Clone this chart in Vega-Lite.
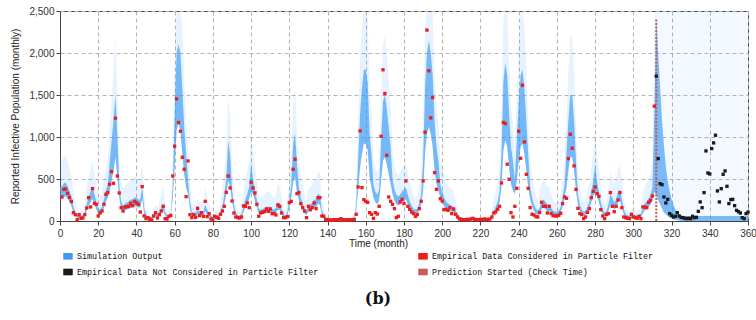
{
"$schema":"https://vega.github.io/schema/vega-lite/v6.json",
"width":688,"height":210,"autosize":{"type":"none"},
"padding":{"left":60,"top":11,"right":8,"bottom":99},
"background":"white",
"config":{"font":"Liberation Sans","view":{"stroke":"#444","strokeWidth":1},
"axis":{"labelFont":"Liberation Sans","labelFontSize":10,"labelColor":"#333","titleFont":"Liberation Sans","titleFontSize":10,"titleFontWeight":"normal","titleColor":"#222","gridColor":"#b4b4b4","gridDash":[4,3],"domainColor":"#444","tickColor":"#444","tickSize":4}},
"title":{"text":"(b)","orient":"bottom","font":"DejaVu Serif","fontSize":16,"fontWeight":"bold","color":"#111","dx":-26,"offset":14},
"datasets":{"d":[
{"m":0,"lo":264,"hi":411,"top":711},
{"m":1,"e":286,"lo":264,"hi":411,"top":711},
{"m":2,"e":377,"lo":288,"hi":447,"top":762},
{"m":3,"e":381,"lo":296,"hi":459,"top":779},
{"m":4,"e":330,"lo":264,"hi":411,"top":711},
{"m":5,"e":282,"lo":224,"hi":351,"top":626},
{"m":6,"e":234,"lo":176,"hi":279,"top":524},
{"m":7,"e":99,"lo":104,"hi":171,"top":351},
{"m":8,"e":75,"lo":64,"hi":111,"top":216},
{"m":9,"e":16,"lo":40,"hi":75,"top":135},
{"m":10,"e":75,"lo":36,"hi":69,"top":122},
{"m":11,"e":32,"lo":32,"hi":63,"top":108},
{"m":12,"e":36,"lo":36,"hi":69,"top":122},
{"m":13,"e":75,"lo":64,"hi":111,"top":216},
{"m":14,"e":155,"lo":120,"hi":195,"top":405},
{"m":15,"e":278,"lo":184,"hi":291,"top":541},
{"m":16,"e":167,"lo":224,"hi":351,"top":626},
{"m":17,"e":385,"lo":264,"hi":411,"top":711},
{"m":18,"e":210,"lo":200,"hi":315,"top":575},
{"m":19,"e":199,"lo":144,"hi":231,"top":456},
{"m":20,"e":60,"lo":80,"hi":135,"top":270},
{"m":21,"e":95,"lo":80,"hi":135,"top":270},
{"m":22,"e":119,"lo":104,"hi":171,"top":351},
{"m":23,"e":199,"lo":160,"hi":255,"top":490},
{"m":24,"e":318,"lo":232,"hi":363,"top":643},
{"m":25,"e":338,"lo":280,"hi":435,"top":745},
{"m":26,"e":437,"lo":352,"hi":700,"top":1120},
{"m":27,"e":588,"lo":480,"hi":955,"top":1460},
{"m":28,"e":449,"lo":600,"hi":1190,"top":1780},
{"m":29,"e":1224,"lo":760,"hi":1500,"top":2200},
{"m":30,"e":536,"lo":520,"hi":1035,"top":1570},
{"m":31,"e":334,"lo":280,"hi":435,"top":745},
{"m":32,"e":159,"lo":144,"hi":231,"top":456},
{"m":33,"e":119,"lo":112,"hi":183,"top":378},
{"m":34,"e":167,"lo":128,"hi":207,"top":422},
{"m":35,"e":171,"lo":136,"hi":219,"top":439},
{"m":36,"e":175,"lo":144,"hi":231,"top":456},
{"m":37,"e":210,"lo":160,"hi":255,"top":490},
{"m":38,"e":183,"lo":160,"hi":255,"top":490},
{"m":39,"e":234,"lo":176,"hi":279,"top":524},
{"m":40,"e":215,"lo":176,"hi":279,"top":524},
{"m":41,"e":199,"lo":160,"hi":255,"top":490},
{"m":42,"e":107,"lo":160,"hi":255,"top":490},
{"m":43,"e":409,"lo":264,"hi":411,"top":711},
{"m":44,"e":60,"lo":96,"hi":159,"top":324},
{"m":45,"e":28,"lo":40,"hi":75,"top":135},
{"m":46,"e":40,"lo":28,"hi":57,"top":95},
{"m":47,"e":20,"lo":24,"hi":51,"top":81},
{"m":48,"e":12,"lo":24,"hi":51,"top":81},
{"m":49,"e":60,"lo":40,"hi":75,"top":135},
{"m":50,"e":99,"lo":56,"hi":99,"top":189},
{"m":51,"e":36,"lo":48,"hi":87,"top":162},
{"m":52,"e":75,"lo":64,"hi":111,"top":216},
{"m":53,"e":119,"lo":96,"hi":159,"top":324},
{"m":54,"e":175,"lo":128,"hi":207,"top":422},
{"m":55,"e":28,"lo":64,"hi":111,"top":216},
{"m":56,"e":24,"lo":32,"hi":63,"top":108},
{"m":57,"e":56,"lo":40,"hi":75,"top":135},
{"m":58,"e":67,"lo":48,"hi":87,"top":162},
{"m":59,"e":536,"lo":280,"hi":435,"top":745},
{"m":60,"e":890,"lo":640,"hi":1270,"top":1890},
{"m":61,"e":1454,"lo":1080,"hi":2000,"top":2500},
{"m":62,"e":1172,"lo":1160,"hi":2100,"top":2500},
{"m":63,"e":1069,"lo":1080,"hi":2000,"top":2500},
{"m":64,"e":759,"lo":800,"hi":1580,"top":2310},
{"m":65,"e":616,"lo":560,"hi":1110,"top":1675},
{"m":66,"e":290,"lo":400,"hi":800,"top":1250},
{"m":67,"e":715,"lo":320,"hi":495,"top":830},
{"m":68,"e":75,"lo":144,"hi":231,"top":456},
{"m":69,"e":40,"lo":64,"hi":111,"top":216},
{"m":70,"e":75,"lo":56,"hi":99,"top":189},
{"m":71,"e":44,"lo":56,"hi":99,"top":189},
{"m":72,"e":151,"lo":80,"hi":135,"top":270},
{"m":73,"e":64,"lo":64,"hi":111,"top":216},
{"m":74,"e":99,"lo":64,"hi":111,"top":216},
{"m":75,"e":56,"lo":64,"hi":111,"top":216},
{"m":76,"e":234,"lo":120,"hi":195,"top":405},
{"m":77,"e":52,"lo":80,"hi":135,"top":270},
{"m":78,"e":87,"lo":56,"hi":99,"top":189},
{"m":79,"e":24,"lo":32,"hi":63,"top":108},
{"m":80,"e":12,"lo":24,"hi":51,"top":81},
{"m":81,"e":56,"lo":32,"hi":63,"top":108},
{"m":82,"e":44,"lo":32,"hi":63,"top":108},
{"m":83,"e":32,"lo":40,"hi":75,"top":135},
{"m":84,"e":80,"lo":64,"hi":111,"top":216},
{"m":85,"e":119,"lo":112,"hi":183,"top":378},
{"m":86,"e":175,"lo":200,"hi":315,"top":575},
{"m":87,"e":342,"lo":320,"hi":495,"top":830},
{"m":88,"e":536,"lo":480,"hi":955,"top":1460},
{"m":89,"e":393,"lo":400,"hi":800,"top":1250},
{"m":90,"e":238,"lo":240,"hi":375,"top":660},
{"m":91,"e":95,"lo":120,"hi":195,"top":405},
{"m":92,"e":48,"lo":56,"hi":99,"top":189},
{"m":93,"e":40,"lo":36,"hi":69,"top":122},
{"m":94,"e":36,"lo":32,"hi":63,"top":108},
{"m":95,"e":48,"lo":48,"hi":87,"top":162},
{"m":96,"e":179,"lo":104,"hi":171,"top":351},
{"m":97,"e":175,"lo":160,"hi":255,"top":490},
{"m":98,"e":215,"lo":208,"hi":327,"top":592},
{"m":99,"e":159,"lo":264,"hi":411,"top":711},
{"m":100,"e":461,"lo":344,"hi":690,"top":1100},
{"m":101,"e":393,"lo":320,"hi":495,"top":830},
{"m":102,"e":334,"lo":240,"hi":375,"top":660},
{"m":103,"e":199,"lo":160,"hi":255,"top":490},
{"m":104,"e":56,"lo":88,"hi":147,"top":297},
{"m":105,"e":96,"lo":80,"hi":135,"top":270},
{"m":106,"e":103,"lo":88,"hi":147,"top":297},
{"m":107,"e":111,"lo":92,"hi":153,"top":310},
{"m":108,"e":143,"lo":104,"hi":171,"top":351},
{"m":109,"e":115,"lo":104,"hi":171,"top":351},
{"m":110,"e":143,"lo":104,"hi":171,"top":351},
{"m":111,"e":88,"lo":88,"hi":147,"top":297},
{"m":112,"e":88,"lo":80,"hi":135,"top":270},
{"m":113,"e":72,"lo":96,"hi":159,"top":324},
{"m":114,"e":191,"lo":136,"hi":219,"top":439},
{"m":115,"e":175,"lo":128,"hi":207,"top":422},
{"m":116,"e":96,"lo":80,"hi":135,"top":270},
{"m":117,"e":40,"lo":44,"hi":81,"top":149},
{"m":118,"e":40,"lo":36,"hi":69,"top":122},
{"m":119,"e":52,"lo":64,"hi":111,"top":216},
{"m":120,"e":219,"lo":160,"hi":255,"top":490},
{"m":121,"e":234,"lo":280,"hi":435,"top":745},
{"m":122,"e":616,"lo":464,"hi":925,"top":1420},
{"m":123,"e":735,"lo":520,"hi":1035,"top":1570},
{"m":124,"e":326,"lo":336,"hi":675,"top":1080},
{"m":125,"e":338,"lo":256,"hi":399,"top":694},
{"m":126,"e":207,"lo":176,"hi":279,"top":524},
{"m":127,"e":159,"lo":128,"hi":207,"top":422},
{"m":128,"e":119,"lo":88,"hi":147,"top":297},
{"m":129,"e":40,"lo":72,"hi":123,"top":243},
{"m":130,"e":175,"lo":112,"hi":183,"top":378},
{"m":131,"e":135,"lo":120,"hi":195,"top":405},
{"m":132,"e":159,"lo":136,"hi":219,"top":439},
{"m":133,"e":215,"lo":160,"hi":255,"top":490},
{"m":134,"e":147,"lo":160,"hi":255,"top":490},
{"m":135,"e":278,"lo":208,"hi":327,"top":592},
{"m":136,"e":278,"lo":192,"hi":303,"top":558},
{"m":137,"e":60,"lo":80,"hi":135,"top":270},
{"m":138,"e":56,"lo":40,"hi":75,"top":135},
{"m":139,"e":20,"lo":12,"hi":33,"top":40},
{"m":140,"e":16,"lo":12,"hi":33,"top":40},
{"m":141,"e":12,"lo":12,"hi":33,"top":40},
{"m":142,"e":12,"lo":12,"hi":33,"top":40},
{"m":143,"e":12,"lo":12,"hi":33,"top":40},
{"m":144,"e":16,"lo":12,"hi":33,"top":40},
{"m":145,"e":12,"lo":12,"hi":33,"top":40},
{"m":146,"e":16,"lo":12,"hi":33,"top":40},
{"m":147,"e":28,"lo":12,"hi":33,"top":40},
{"m":148,"e":16,"lo":12,"hi":33,"top":40},
{"m":149,"e":12,"lo":12,"hi":33,"top":40},
{"m":150,"e":12,"lo":12,"hi":33,"top":40},
{"m":151,"e":16,"lo":12,"hi":33,"top":40},
{"m":152,"e":12,"lo":12,"hi":33,"top":40},
{"m":153,"e":16,"lo":12,"hi":33,"top":40},
{"m":154,"e":20,"lo":12,"hi":33,"top":40},
{"m":155,"e":80,"lo":120,"hi":195,"top":405},
{"m":156,"e":405,"lo":360,"hi":720,"top":1145},
{"m":157,"e":1073,"lo":640,"hi":1270,"top":1890},
{"m":158,"e":397,"lo":800,"hi":1580,"top":2310},
{"m":159,"e":254,"lo":920,"hi":1800,"top":2500},
{"m":160,"e":235,"lo":920,"hi":1800,"top":2500},
{"m":161,"e":222,"lo":840,"hi":1650,"top":2420},
{"m":162,"e":99,"lo":520,"hi":1035,"top":1570},
{"m":163,"e":80,"lo":400,"hi":800,"top":1250},
{"m":164,"e":32,"lo":280,"hi":435,"top":745},
{"m":165,"e":99,"lo":224,"hi":351,"top":626},
{"m":166,"e":83,"lo":200,"hi":315,"top":575},
{"m":167,"e":175,"lo":240,"hi":375,"top":660},
{"m":168,"e":1009,"lo":480,"hi":955,"top":1460},
{"m":169,"e":1800,"lo":720,"hi":1420,"top":2100},
{"m":170,"e":1518,"lo":760,"hi":1500,"top":2200},
{"m":171,"e":783,"lo":680,"hi":1345,"top":1990},
{"m":172,"e":286,"lo":560,"hi":1110,"top":1675},
{"m":173,"e":235,"lo":440,"hi":880,"top":1355},
{"m":174,"e":199,"lo":320,"hi":495,"top":830},
{"m":175,"e":147,"lo":240,"hi":375,"top":660},
{"m":176,"e":40,"lo":200,"hi":315,"top":575},
{"m":177,"e":56,"lo":184,"hi":291,"top":541},
{"m":178,"e":227,"lo":200,"hi":315,"top":575},
{"m":179,"e":258,"lo":224,"hi":351,"top":626},
{"m":180,"e":207,"lo":240,"hi":375,"top":660},
{"m":181,"e":477,"lo":256,"hi":399,"top":694},
{"m":182,"e":175,"lo":200,"hi":315,"top":575},
{"m":183,"e":139,"lo":144,"hi":231,"top":456},
{"m":184,"e":107,"lo":112,"hi":183,"top":378},
{"m":185,"e":88,"lo":88,"hi":147,"top":297},
{"m":186,"e":56,"lo":80,"hi":135,"top":270},
{"m":187,"e":76,"lo":88,"hi":147,"top":297},
{"m":188,"e":147,"lo":128,"hi":207,"top":422},
{"m":189,"e":235,"lo":200,"hi":315,"top":575},
{"m":190,"e":477,"lo":360,"hi":720,"top":1145},
{"m":191,"e":1057,"lo":800,"hi":1580,"top":2310},
{"m":192,"e":2273,"lo":1040,"hi":2000,"top":2500},
{"m":193,"e":1788,"lo":1120,"hi":2150,"top":2500},
{"m":194,"e":1228,"lo":1040,"hi":2000,"top":2500},
{"m":195,"e":1470,"lo":880,"hi":1735,"top":2500},
{"m":196,"e":576,"lo":600,"hi":1190,"top":1780},
{"m":197,"e":377,"lo":440,"hi":880,"top":1355},
{"m":198,"e":477,"lo":360,"hi":720,"top":1145},
{"m":199,"e":266,"lo":280,"hi":435,"top":745},
{"m":200,"e":238,"lo":224,"hi":351,"top":626},
{"m":201,"e":135,"lo":176,"hi":279,"top":524},
{"m":202,"e":139,"lo":144,"hi":231,"top":456},
{"m":203,"e":127,"lo":128,"hi":207,"top":422},
{"m":204,"e":159,"lo":120,"hi":195,"top":405},
{"m":205,"e":88,"lo":112,"hi":183,"top":378},
{"m":206,"e":143,"lo":104,"hi":171,"top":351},
{"m":207,"e":80,"lo":72,"hi":123,"top":243},
{"m":208,"e":48,"lo":40,"hi":75,"top":135},
{"m":209,"e":24,"lo":24,"hi":51,"top":81},
{"m":210,"e":20,"lo":12,"hi":33,"top":40},
{"m":211,"e":16,"lo":12,"hi":33,"top":40},
{"m":212,"e":16,"lo":12,"hi":33,"top":40},
{"m":213,"e":20,"lo":12,"hi":33,"top":40},
{"m":214,"e":16,"lo":12,"hi":33,"top":40},
{"m":215,"e":24,"lo":12,"hi":33,"top":40},
{"m":216,"e":32,"lo":12,"hi":33,"top":40},
{"m":217,"e":20,"lo":12,"hi":33,"top":40},
{"m":218,"e":16,"lo":12,"hi":33,"top":40},
{"m":219,"e":16,"lo":12,"hi":33,"top":40},
{"m":220,"e":20,"lo":12,"hi":33,"top":40},
{"m":221,"e":16,"lo":12,"hi":33,"top":40},
{"m":222,"e":24,"lo":12,"hi":33,"top":40},
{"m":223,"e":20,"lo":12,"hi":33,"top":40},
{"m":224,"e":16,"lo":12,"hi":33,"top":40},
{"m":225,"e":24,"lo":12,"hi":33,"top":40},
{"m":226,"e":48,"lo":40,"hi":75,"top":135},
{"m":227,"e":96,"lo":72,"hi":123,"top":243},
{"m":228,"e":107,"lo":104,"hi":171,"top":351},
{"m":229,"e":140,"lo":144,"hi":231,"top":456},
{"m":230,"e":175,"lo":224,"hi":351,"top":626},
{"m":231,"e":453,"lo":400,"hi":800,"top":1250},
{"m":232,"e":1173,"lo":840,"hi":1650,"top":2420},
{"m":233,"e":1160,"lo":960,"hi":1890,"top":2500},
{"m":234,"e":676,"lo":880,"hi":1735,"top":2500},
{"m":235,"e":497,"lo":640,"hi":1270,"top":1890},
{"m":236,"e":99,"lo":440,"hi":880,"top":1355},
{"m":237,"e":48,"lo":360,"hi":720,"top":1145},
{"m":238,"e":175,"lo":320,"hi":495,"top":830},
{"m":239,"e":389,"lo":480,"hi":955,"top":1460},
{"m":240,"e":1069,"lo":720,"hi":1420,"top":2100},
{"m":241,"e":747,"lo":880,"hi":1735,"top":2500},
{"m":242,"e":1617,"lo":920,"hi":1800,"top":2500},
{"m":243,"e":942,"lo":800,"hi":1580,"top":2310},
{"m":244,"e":556,"lo":600,"hi":1190,"top":1780},
{"m":245,"e":389,"lo":400,"hi":800,"top":1250},
{"m":246,"e":159,"lo":264,"hi":411,"top":711},
{"m":247,"e":80,"lo":176,"hi":279,"top":524},
{"m":248,"e":72,"lo":120,"hi":195,"top":405},
{"m":249,"e":52,"lo":88,"hi":147,"top":297},
{"m":250,"e":48,"lo":72,"hi":123,"top":243},
{"m":251,"e":100,"lo":96,"hi":159,"top":324},
{"m":252,"e":223,"lo":144,"hi":231,"top":456},
{"m":253,"e":175,"lo":160,"hi":255,"top":490},
{"m":254,"e":175,"lo":144,"hi":231,"top":456},
{"m":255,"e":96,"lo":120,"hi":195,"top":405},
{"m":256,"e":175,"lo":120,"hi":195,"top":405},
{"m":257,"e":88,"lo":96,"hi":159,"top":324},
{"m":258,"e":64,"lo":72,"hi":123,"top":243},
{"m":259,"e":60,"lo":64,"hi":111,"top":216},
{"m":260,"e":60,"lo":64,"hi":111,"top":216},
{"m":261,"e":68,"lo":72,"hi":123,"top":243},
{"m":262,"e":92,"lo":104,"hi":171,"top":351},
{"m":263,"e":207,"lo":176,"hi":279,"top":524},
{"m":264,"e":286,"lo":280,"hi":435,"top":745},
{"m":265,"e":270,"lo":400,"hi":800,"top":1250},
{"m":266,"e":743,"lo":600,"hi":1190,"top":1780},
{"m":267,"e":1033,"lo":760,"hi":1500,"top":2200},
{"m":268,"e":866,"lo":760,"hi":1500,"top":2200},
{"m":269,"e":656,"lo":600,"hi":1190,"top":1780},
{"m":270,"e":377,"lo":360,"hi":720,"top":1145},
{"m":271,"e":151,"lo":200,"hi":315,"top":575},
{"m":272,"e":88,"lo":120,"hi":195,"top":405},
{"m":273,"e":76,"lo":80,"hi":135,"top":270},
{"m":274,"e":28,"lo":64,"hi":111,"top":216},
{"m":275,"e":48,"lo":72,"hi":123,"top":243},
{"m":276,"e":103,"lo":104,"hi":171,"top":351},
{"m":277,"e":147,"lo":144,"hi":231,"top":456},
{"m":278,"e":278,"lo":224,"hi":351,"top":626},
{"m":279,"e":354,"lo":304,"hi":471,"top":796},
{"m":280,"e":405,"lo":336,"hi":675,"top":1080},
{"m":281,"e":326,"lo":304,"hi":471,"top":796},
{"m":282,"e":294,"lo":224,"hi":351,"top":626},
{"m":283,"e":135,"lo":136,"hi":219,"top":439},
{"m":284,"e":60,"lo":80,"hi":135,"top":270},
{"m":285,"e":28,"lo":56,"hi":99,"top":189},
{"m":286,"e":76,"lo":72,"hi":123,"top":243},
{"m":287,"e":88,"lo":120,"hi":195,"top":405},
{"m":288,"e":338,"lo":200,"hi":315,"top":575},
{"m":289,"e":175,"lo":176,"hi":279,"top":524},
{"m":290,"e":111,"lo":136,"hi":219,"top":439},
{"m":291,"e":175,"lo":160,"hi":255,"top":490},
{"m":292,"e":250,"lo":224,"hi":351,"top":626},
{"m":293,"e":338,"lo":240,"hi":375,"top":660},
{"m":294,"e":159,"lo":160,"hi":255,"top":490},
{"m":295,"e":48,"lo":80,"hi":135,"top":270},
{"m":296,"e":40,"lo":48,"hi":87,"top":162},
{"m":297,"e":32,"lo":36,"hi":69,"top":122},
{"m":298,"e":28,"lo":32,"hi":63,"top":108},
{"m":299,"e":80,"lo":40,"hi":75,"top":135},
{"m":300,"e":48,"lo":40,"hi":75,"top":135},
{"m":301,"e":40,"lo":36,"hi":69,"top":122},
{"m":302,"e":32,"lo":36,"hi":69,"top":122},
{"m":303,"e":56,"lo":40,"hi":75,"top":135},
{"m":304,"e":28,"lo":48,"hi":87,"top":162},
{"m":305,"e":167,"lo":96,"hi":159,"top":324},
{"m":306,"e":167,"lo":128,"hi":207,"top":422},
{"m":307,"e":159,"lo":144,"hi":231,"top":456},
{"m":308,"e":223,"lo":168,"hi":267,"top":507},
{"m":309,"e":246,"lo":200,"hi":315,"top":575},
{"m":310,"e":298,"lo":256,"hi":399,"top":694},
{"m":311,"e":1367,"lo":350,"hi":1300,"top":2400},
{"m":312,"k":1724,"lo":300,"hi":2400,"top":2500},
{"m":313,"k":743,"lo":250,"hi":2000,"top":2500},
{"m":314,"k":445,"lo":200,"hi":1600,"top":2500},
{"m":315,"k":433,"lo":150,"hi":1200,"top":2500},
{"m":316,"k":286,"lo":100,"hi":900,"top":2500},
{"m":317,"k":215,"lo":80,"hi":650,"top":2500},
{"m":318,"k":258,"lo":60,"hi":480,"top":2500},
{"m":319,"k":88,"lo":40,"hi":360,"top":2500},
{"m":320,"k":68,"lo":30,"hi":260,"top":2500},
{"m":321,"k":48,"lo":20,"hi":190,"top":2500},
{"m":322,"k":56,"lo":15,"hi":140,"top":2500},
{"m":323,"k":99,"lo":10,"hi":100,"top":2500},
{"m":324,"k":60,"lo":5,"hi":80,"top":2500},
{"m":325,"k":44,"lo":0,"hi":60,"top":2500},
{"m":326,"k":40,"lo":0,"hi":60,"top":2500},
{"m":327,"k":32,"lo":0,"hi":60,"top":2500},
{"m":328,"k":28,"lo":0,"hi":60,"top":2500},
{"m":329,"k":32,"lo":0,"hi":60,"top":2500},
{"m":330,"k":28,"lo":0,"hi":60,"top":2500},
{"m":331,"k":56,"lo":0,"hi":60,"top":2500},
{"m":332,"k":40,"lo":0,"hi":60,"top":2500},
{"m":333,"k":44,"lo":0,"hi":60,"top":2500},
{"m":334,"k":115,"lo":0,"hi":60,"top":2500},
{"m":335,"k":227,"lo":0,"hi":60,"top":2500},
{"m":336,"k":159,"lo":0,"hi":60,"top":2500},
{"m":337,"k":338,"lo":0,"hi":60,"top":2500},
{"m":338,"k":834,"lo":0,"hi":60,"top":2500},
{"m":339,"k":572,"lo":0,"hi":60,"top":2500},
{"m":340,"k":560,"lo":0,"hi":60,"top":2500},
{"m":341,"k":862,"lo":0,"hi":60,"top":2500},
{"m":342,"k":930,"lo":0,"hi":60,"top":2500},
{"m":343,"k":1021,"lo":0,"hi":60,"top":2500},
{"m":344,"k":358,"lo":0,"hi":60,"top":2500},
{"m":345,"k":227,"lo":0,"hi":60,"top":2500},
{"m":346,"k":385,"lo":0,"hi":60,"top":2500},
{"m":347,"k":556,"lo":0,"hi":60,"top":2500},
{"m":348,"k":596,"lo":0,"hi":60,"top":2500},
{"m":349,"k":413,"lo":0,"hi":60,"top":2500},
{"m":350,"k":207,"lo":0,"hi":60,"top":2500},
{"m":351,"k":254,"lo":0,"hi":60,"top":2500},
{"m":352,"k":258,"lo":0,"hi":60,"top":2500},
{"m":353,"k":183,"lo":0,"hi":60,"top":2500},
{"m":354,"k":127,"lo":0,"hi":60,"top":2500},
{"m":355,"k":111,"lo":0,"hi":60,"top":2500},
{"m":356,"k":95,"lo":0,"hi":60,"top":2500},
{"m":357,"k":40,"lo":0,"hi":60,"top":2500},
{"m":358,"k":28,"lo":0,"hi":60,"top":2500},
{"m":359,"k":88,"lo":0,"hi":60,"top":2500},
{"m":360,"k":107,"lo":0,"hi":60,"top":2500}
],
"check":[{"t":312,"y0":0,"y1":2400}]},
"encoding":{
"x":{"field":"m","type":"quantitative","scale":{"domain":[0,360],"nice":false},
"axis":{"title":"Time (month)","values":[0,20,40,60,80,100,120,140,160,180,200,220,240,260,280,300,320,340,360],"labelPadding":3,"titleX":318,"titleY":22,"titleBaseline":"middle","labelOverlap":false,"labelFlush":false}}
},
"layer":[
{"data":{"name":"d"},"transform":[{"filter":"datum.m <= 312"}],"mark":{"type":"area","opacity":0.13,"interpolate":"linear"},
"encoding":{"y":{"field":"lo","type":"quantitative","scale":{"domain":[0,2500],"nice":false},
"axis":{"title":"Reported Infective Population (monthly)","values":[0,500,1000,1500,2000,2500],"format":",d","labelPadding":2,"titlePadding":8}},
"y2":{"field":"top"},
"color":{"datum":"Simulation Output","type":"nominal","scale":{"domain":["Simulation Output","Empirical Data Not Considered in Particle Filter","Empirical Data Considered in Particle Filter","Prediction Started (Check Time)"],"range":["#3a9af5","#1a1a1a","#ee1c1c","#c85c5c"]},
"legend":{"title":null,"orient":"none","legendX":3,"legendY":240,"columns":2,"columnPadding":99,"rowPadding":6,"padding":0,"labelFont":"Liberation Mono","labelFontSize":8.4,"labelColor":"#111","labelLimit":320,"symbolType":"M-1,-0.7L1,-0.7L1,0.7L-1,0.7Z","symbolSize":90,"symbolOpacity":1,"symbolStrokeWidth":0,"labelOffset":4,
"encode":{"symbols":{"update":{"opacity":{"value":1},"fillOpacity":{"value":1},"strokeOpacity":{"value":0}}}}}}}},
{"data":{"name":"d"},"transform":[{"filter":"datum.m >= 312"}],"mark":{"type":"area","opacity":0.06,"interpolate":"linear"},
"encoding":{"y":{"field":"lo","type":"quantitative"},"y2":{"field":"top"},"color":{"datum":"Simulation Output","type":"nominal"}}},
{"data":{"name":"d"},"mark":{"type":"area","opacity":0.66,"interpolate":"linear"},
"encoding":{"y":{"field":"lo","type":"quantitative"},"y2":{"field":"hi"},"color":{"datum":"Simulation Output","type":"nominal"}}},
{"data":{"name":"check"},"mark":{"type":"rule","strokeWidth":2,"strokeDash":[2,1.5]},
"encoding":{"x":{"field":"t","type":"quantitative"},"y":{"field":"y0","type":"quantitative"},"y2":{"field":"y1"},"color":{"datum":"Prediction Started (Check Time)","type":"nominal"}}},
{"data":{"name":"d"},"mark":{"type":"point","shape":"square","filled":true,"size":11,"opacity":1},
"encoding":{"y":{"field":"e","type":"quantitative"},"color":{"datum":"Empirical Data Considered in Particle Filter","type":"nominal"}}},
{"data":{"name":"d"},"mark":{"type":"point","shape":"square","filled":true,"size":11,"opacity":1},
"encoding":{"y":{"field":"k","type":"quantitative"},"color":{"datum":"Empirical Data Not Considered in Particle Filter","type":"nominal"}}}
]
}
